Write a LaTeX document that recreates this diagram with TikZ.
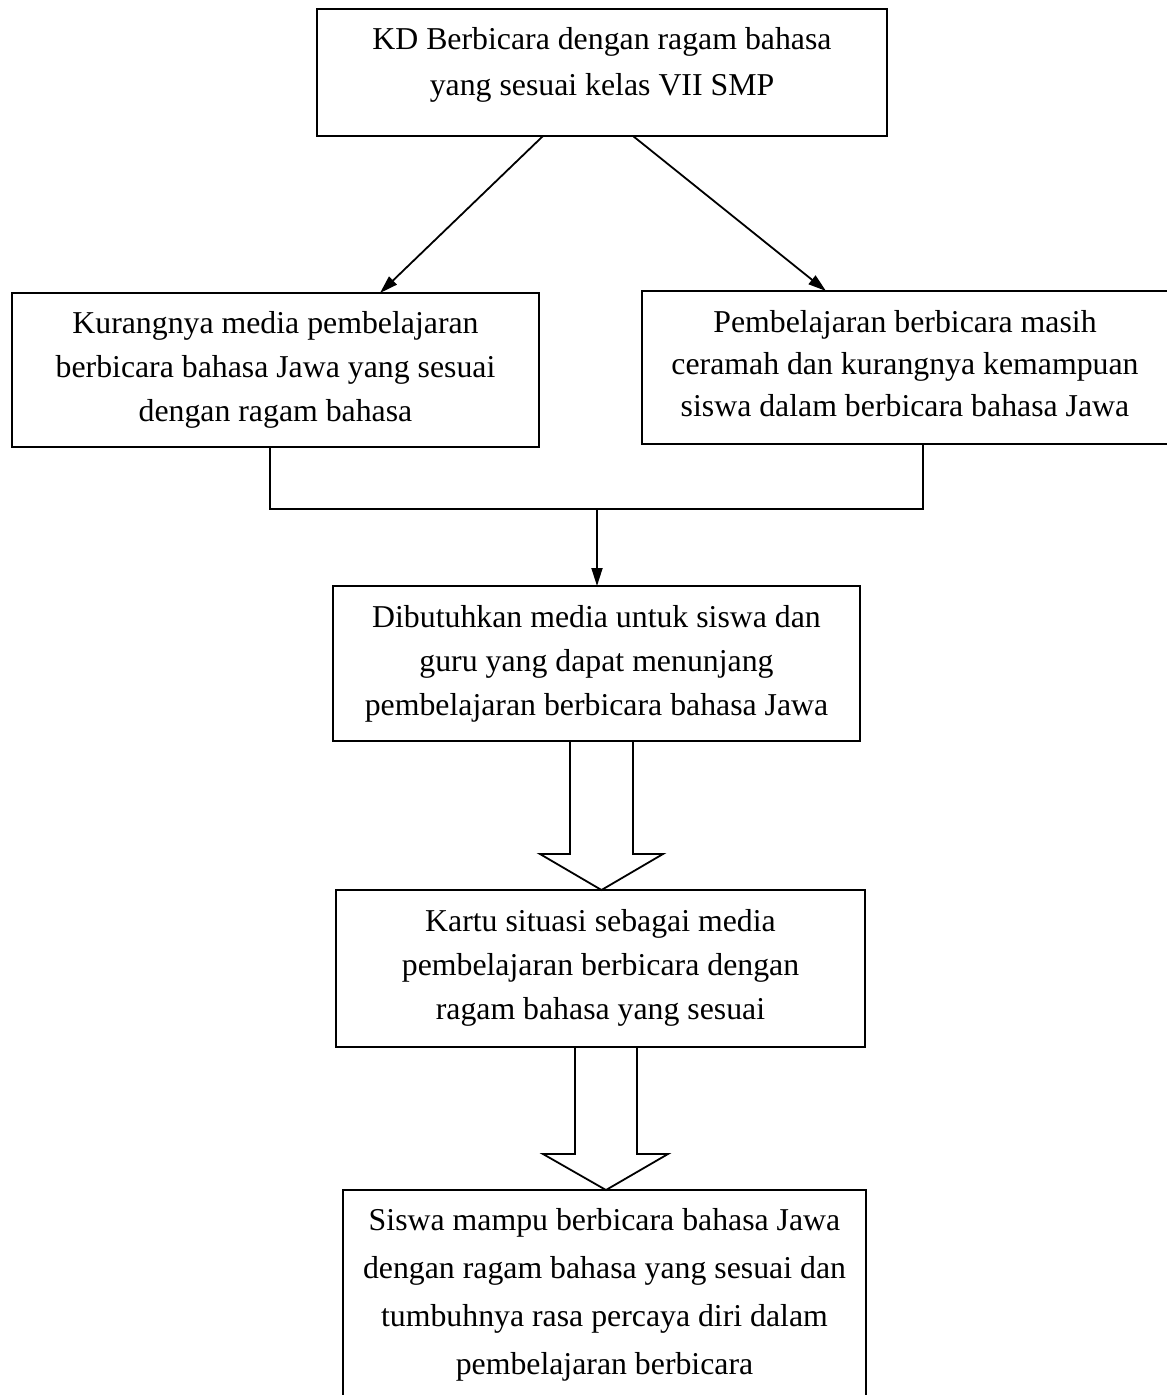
\documentclass[tikz,border=0pt]{standalone}
\usepackage{fontspec}
\setmainfont{Liberation Serif}
\usetikzlibrary{arrows.meta,calc}
\newcommand\bxt[5]{\parbox[c][#2pt][t]{#1pt}{\centering\fontsize{31.8pt}{#4pt}\selectfont\vspace*{#3pt}#5\par}}
\begin{document}
\begin{tikzpicture}[x=1pt,y=-1pt,
  boxst/.style={draw,line width=1.8pt,inner sep=0pt,outer sep=0pt,anchor=north west},
  conn/.style={line width=1.8pt},
  arr/.style={line width=1.8pt,-{Triangle[length=18pt,width=11pt]}},
  blk/.style={line width=1.8pt,line join=miter}]
\useasboundingbox (0,0) rectangle (1167,1395);
\node[boxst] (b1) at (317,9) {\bxt{570}{127}{18}{46}{KD Berbicara dengan ragam bahasa\\yang sesuai kelas VII SMP}};
\node[boxst] (b2) at (12,293) {\bxt{527}{154}{18}{44}{Kurangnya media pembelajaran\\berbicara bahasa Jawa yang sesuai\\dengan ragam bahasa}};
\node[boxst] (b3) at (642,291) {\bxt{526}{153}{19}{42}{Pembelajaran berbicara masih\\ceramah dan kurangnya kemampuan\\siswa dalam berbicara bahasa Jawa}};
\node[boxst] (b4) at (333,586) {\bxt{527}{155}{19}{44}{Dibutuhkan media untuk siswa dan\\guru yang dapat menunjang\\pembelajaran berbicara bahasa Jawa}};
\node[boxst] (b5) at (336,890) {\bxt{529}{157}{19}{44}{Kartu situasi sebagai media\\pembelajaran berbicara dengan\\ragam bahasa yang sesuai}};
\node[boxst] (b6) at (343,1190) {\bxt{523}{260}{18}{48}{Siswa mampu berbicara bahasa Jawa\\dengan ragam bahasa yang sesuai dan\\tumbuhnya rasa percaya diri dalam\\pembelajaran berbicara}};
% diagonal arrows
\draw[arr] ([xshift=226pt]b1.south west) -- ([xshift=368pt]b2.north west);
\draw[arr] ([xshift=316pt]b1.south west) -- ([xshift=184pt]b3.north west);
% joining lines
\coordinate (jl) at (270,509);
\coordinate (jr) at (923,509);
\coordinate (jm) at (597,509);
\draw[conn] (jl |- b2.south) -- (jl) -- (jr) -- (jr |- b3.south);
\draw[arr] (jm) -- (jm |- b4.north);
% block arrows
\draw[blk] ([xshift=-26.5pt]b4.south) -- ++(0,113) -- ++(-30,0) -- (b5.north -| 601.5,0) -- ++(61.5,-36) -- ++(-30,0) -- ++(0,-113);
\draw[blk] ([xshift=-25.5pt]b5.south) -- ++(0,107) -- ++(-32,0) -- (b6.north -| 606,0) -- ++(62,-36) -- ++(-31,0) -- ++(0,-107);
\end{tikzpicture}
\end{document}
